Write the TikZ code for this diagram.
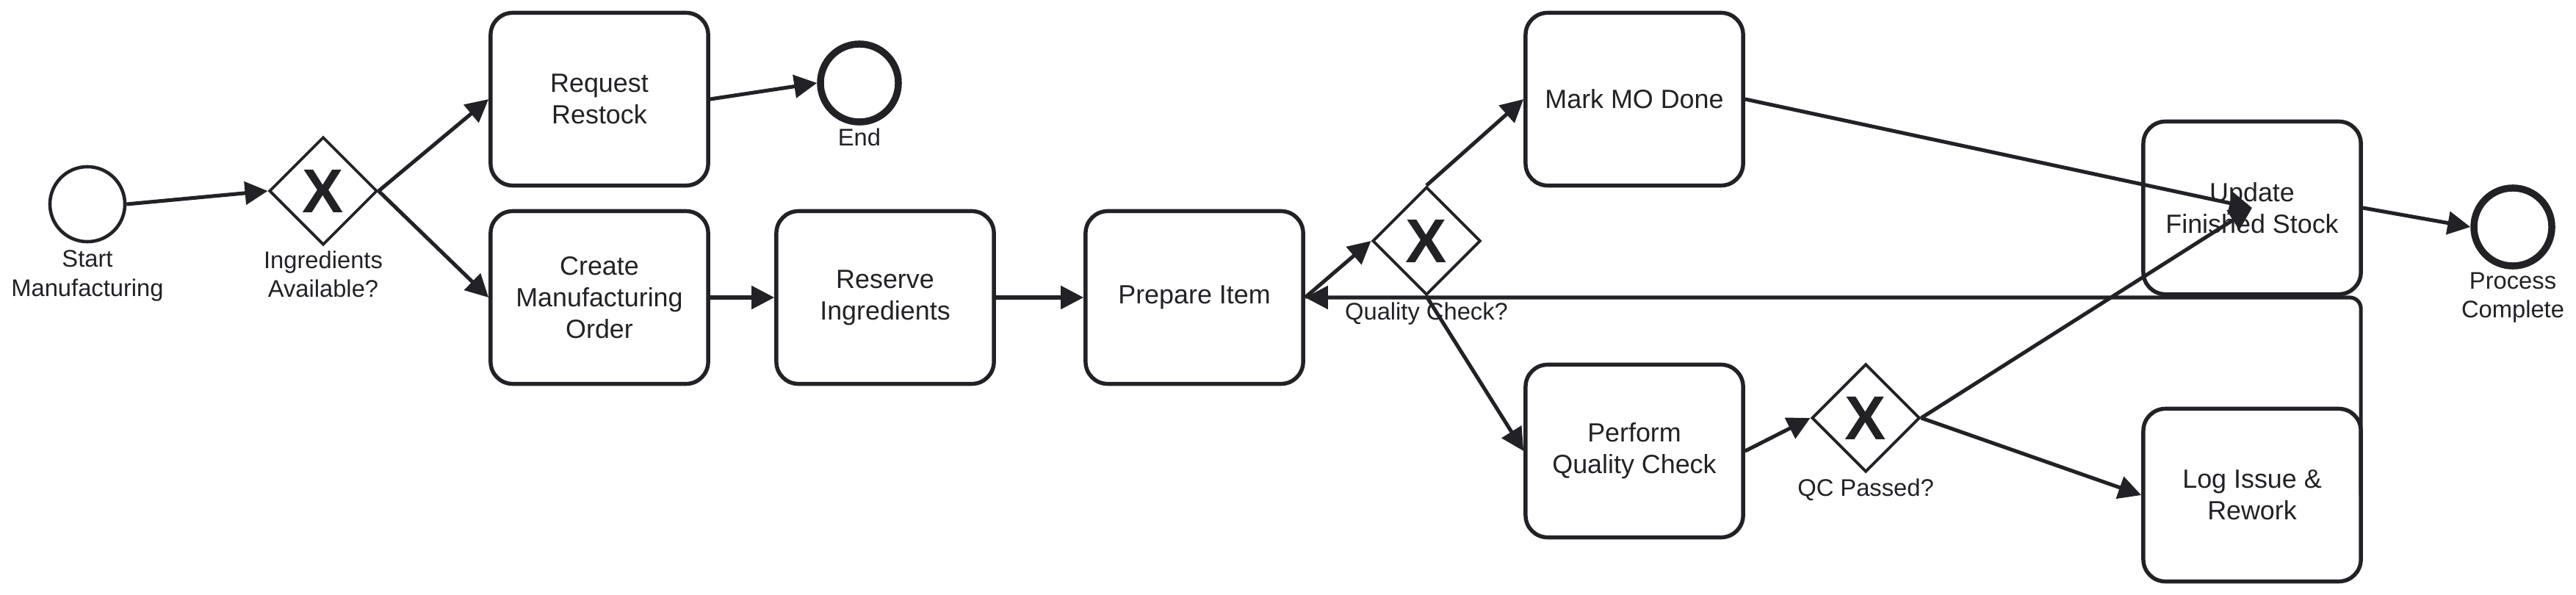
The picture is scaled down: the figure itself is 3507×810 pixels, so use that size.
\documentclass[tikz,border=0pt]{standalone}
\usepackage{fontspec}
\setmainfont{Liberation Sans}
\definecolor{bpmnInk}{RGB}{34,34,38}
\usetikzlibrary{arrows.meta,shapes.geometric,positioning}
\tikzset{
	task/.style={draw=bpmnInk,line width=1.55pt,rounded corners=0.3cm,minimum width=2.96cm,minimum height=2.35cm,align=center,inner sep=0pt,text=bpmnInk,font=\fontsize{10.2}{12.2}\selectfont},
	gateway/.style={draw=bpmnInk,line width=1.1pt,diamond,minimum width=1.47cm,minimum height=1.47cm,inner sep=0pt,text=bpmnInk,font=\fontsize{24}{24}\selectfont\bfseries},
	startEvent/.style={draw=bpmnInk,line width=1.3pt,circle,minimum size=1.02cm,inner sep=0pt},
	endEvent/.style={draw=bpmnInk,line width=2.7pt,circle,minimum size=1.06cm,inner sep=0pt},
	evLabel/.style={align=center,inner sep=0pt,text=bpmnInk,font=\fontsize{9.3}{11.1}\selectfont},
	flow/.style={draw=bpmnInk,line width=1.45pt,-{Triangle[length=0.31cm,width=0.31cm]}},
}
\begin{document}
\begin{tikzpicture}[x=0.01cm,y=-0.01cm]
								\useasboundingbox (0,0) rectangle (3507,810);
								\node [startEvent] (start) at (119,278) {};
								\node [evLabel,below=2.6pt of start] (lblStart) {Start\\Manufacturing};
								\node [gateway] (gwIngr) at (440,260) {X};
								\node [evLabel,below=1.6pt of gwIngr] (lblIngr) {Ingredients\\Available?};
								\node [task] (reqRestock) at (816,135) {Request\\Restock};
								\node [task] (createMO) at (816,405) {Create\\Manufacturing\\Order};
								\node [endEvent] (endRestock) at (1170,113) {};
								\node [evLabel,below=1pt of endRestock] (lblEnd) {End};
								\node [task] (reserve) at (1205,405) {Reserve\\Ingredients};
								\node [task] (prep) at (1626,405) {Prepare Item};
								\node [gateway] (gwQC) at (1942,328) {X};
								\node [evLabel,below=2.2pt of gwQC] (lblQC) {Quality Check?};
								\node [task] (markDone) at (2225,135) {Mark MO Done};
								\node [task] (perform) at (2225,614) {Perform\\Quality Check};
								\node [gateway] (gwPassed) at (2540,569) {X};
								\node [evLabel,below=2pt of gwPassed] (lblPassed) {QC Passed?};
								\node [task] (update) at (3066,283) {Update\\Finished Stock};
								\node [task] (logIssue) at (3066,674) {Log Issue \&\\Rework};
								\node [endEvent] (procDone) at (3421,309) {};
								\node [evLabel,below=0.9pt of procDone] (lblDone) {Process\\Complete};
								\draw [flow] (start.east) -- (gwIngr.west);
								\draw [flow] (gwIngr.east) -- (reqRestock.west);
								\draw [flow] (gwIngr.east) -- (createMO.west);
								\draw [flow] (reqRestock.east) -- (endRestock.west);
								\draw [flow] (createMO) -- (reserve);
								\draw [flow] (reserve) -- (prep);
								\draw [flow] (prep.east) -- (gwQC.west);
								\draw [flow] (gwQC.north) -- (markDone.west);
								\draw [flow] (gwQC.south) -- (perform.west);
								\draw [flow] (perform.east) -- (gwPassed.west);
								\draw [flow] (gwPassed.east) -- (logIssue.west);
								\draw [flow] (gwPassed.east) -- (update.center);
								\draw [flow] (markDone.east) -- (update.center);
								\draw [flow] (update.east) -- (procDone.west);
								\draw [flow,rounded corners=0.15cm] ([xshift=-0.78pt]logIssue.east) |- (prep.east);
							\end{tikzpicture}
\end{document}
